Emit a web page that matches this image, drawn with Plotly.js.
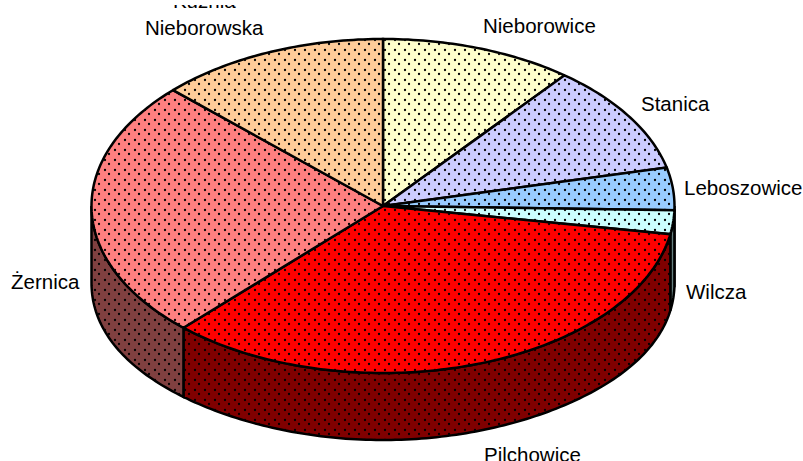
<!DOCTYPE html>
<html><head><meta charset="utf-8">
<script src="https://cdn.plot.ly/plotly-3.0.1.min.js"></script>
<style>html,body{margin:0;padding:0;background:#fff;overflow:hidden}
#chart{position:absolute;left:0;top:5px;width:803px;height:456px}</style>
</head><body><div id="chart"></div>
<script>
const labels = ['Nieborowice','Stanica','Leboszowice','Wilcza','Pilchowice','Żernica','Kuźnia<br>Nieborowska'];
const values = [10.7,10.6,4.1,2.3,34.3,25.2,12.8];
const topColors = ['#FFFFCC','#CCCCFF','#99CCFF','#CCFFFF','#FF0000','#FF8080','#FFCC99'];
const sideColors = ['#808066','#666680','#4D6680','#668080','#800000','#804040','#80664D'];
const labelX = [539,675,743,716,532.5,45,204];
const labelY = [25.5,103.5,187,291.5,454,281,28];

const cx=383, cy=206, rx=291.5, ry=167, depth=67, bulge=10;
const px=(d)=>cx+rx*Math.sin(d*Math.PI/180);
const py=(d)=>cy-ry*Math.cos(d*Math.PI/180);
const pyLow=(d)=>py(d)+depth+bulge*Math.pow(Math.abs(Math.sin(d*Math.PI/180)),4);
const total=values.reduce((a,b)=>a+b,0);
let acc=0;
const spans=values.map(v=>{const a=acc;acc+=v/total*360;return [a,acc];});
function arc(a,b,f){const n=Math.max(2,Math.ceil(Math.abs(b-a)));const xs=[],ys=[];
  for(let i=0;i<=n;i++){const d=a+(b-a)*i/n;xs.push(px(d));ys.push(f(d));}return [xs,ys];}
function solid(x,y,bg){return {type:'scatter',mode:'lines',x,y,fill:'toself',fillcolor:bg,
  line:{color:'#000',width:2.5,simplify:false},hoverinfo:'skip',showlegend:false};}
// dot layers: the same outline in two subplots offset by half a tile, giving a staggered dot pattern
function dots(x,y,xa,ya){return {type:'scatter',mode:'none',x,y,xaxis:xa,yaxis:ya,fill:'toself',fillcolor:'rgba(0,0,0,0)',
  fillpattern:{shape:'.',fgcolor:'#000',bgcolor:'rgba(0,0,0,0)',size:10,solidity:0.04},hoverinfo:'skip',showlegend:false};}
const polys=[];
spans.forEach(([a,b],i)=>{const s=Math.max(a,90),e=Math.min(b,270);if(e<=s)return;
  const [x1,y1]=arc(s,e,py),[x2,y2]=arc(e,s,pyLow);
  polys.push([x1.concat(x2,[x1[0]]),y1.concat(y2,[y1[0]]),sideColors[i]]);});
spans.forEach(([a,b],i)=>{const [x,y]=arc(a,b,py);
  polys.push([[cx].concat(x,[cx]),[cy].concat(y,[cy]),topColors[i]]);});
const traces=[];
polys.forEach(p=>traces.push(solid(p[0],p[1],p[2])));
polys.forEach(p=>traces.push(dots(p[0],p[1],'x','y')));
polys.forEach(p=>traces.push(dots(p[0],p[1],'x2','y2')));
const annotations=labels.map((t,i)=>({text:t,x:labelX[i],y:labelY[i],xref:'x',yref:'y',showarrow:false,
  xanchor:'center',yanchor:t.includes('<br>')?'bottom':'middle',yshift:t.includes('<br>')?-13:0,font:{family:'Liberation Sans, Arial, sans-serif',size:20.5,color:'#000'}}));
const off=4;
Plotly.newPlot('chart',traces,{width:803,height:456,margin:{l:0,r:0,t:0,b:0},paper_bgcolor:'#fff',plot_bgcolor:'rgba(0,0,0,0)',
  xaxis:{range:[0,803],visible:false,fixedrange:true},yaxis:{range:[461,5],visible:false,fixedrange:true},
  xaxis2:{domain:[off/803,1],range:[off,803],visible:false,fixedrange:true,anchor:'y2'},
  yaxis2:{domain:[0,(456-off)/456],range:[461,5+off],visible:false,fixedrange:true,anchor:'x2'},
  showlegend:false,annotations},{displayModeBar:false,staticPlot:true});
</script></body></html>
